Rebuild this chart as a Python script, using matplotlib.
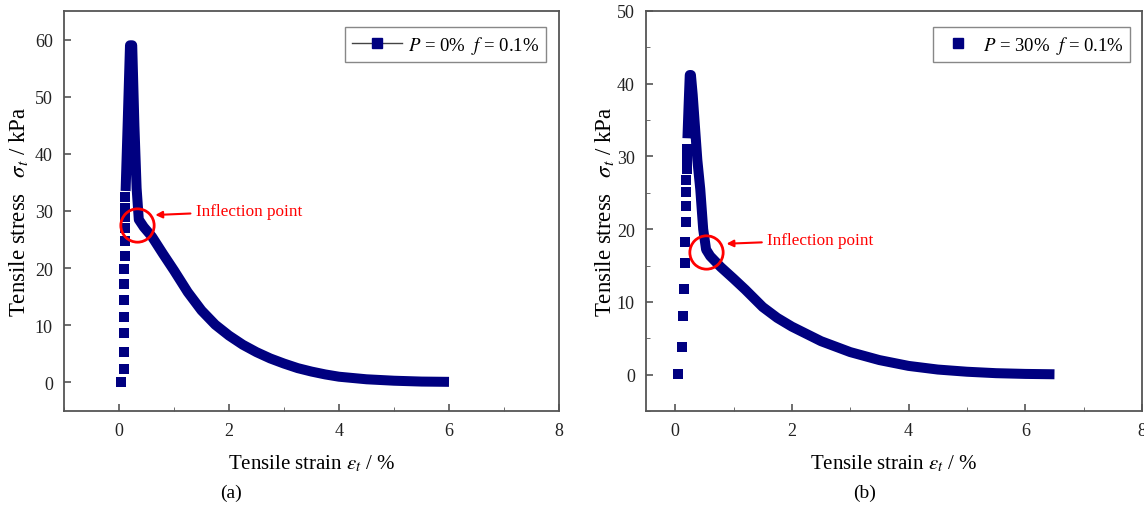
import matplotlib
matplotlib.use("Agg")
import matplotlib.pyplot as plt
from matplotlib.lines import Line2D
from matplotlib.ticker import MultipleLocator

# ---- data ----
# (a) P = 0 %
rise_x_a = [0.04, 0.09, 0.09, 0.09, 0.09, 0.09, 0.09, 0.09, 0.10, 0.10, 0.10, 0.10, 0.10, 0.10]
rise_y_a = [0.0, 2.4, 5.4, 8.6, 11.5, 14.5, 17.3, 19.8, 22.2, 24.7, 27.0, 28.9, 30.6, 32.4]
curve_x_a = [0.12, 0.16, 0.20, 0.24, 0.28, 0.32, 0.36, 0.45, 0.60, 0.80, 1.00, 1.25, 1.50,
             1.75, 2.00, 2.25, 2.50, 2.75, 3.00, 3.25, 3.50, 3.75, 4.00, 4.50, 5.00, 5.50, 6.00]
curve_y_a = [33.5, 46.0, 59.0, 59.0, 45.0, 34.0, 28.5, 27.2, 25.5, 22.5, 19.6, 15.8, 12.6,
             10.1, 8.2, 6.6, 5.3, 4.2, 3.3, 2.5, 1.9, 1.4, 1.0, 0.55, 0.3, 0.15, 0.1]

# (b) P = 30 %
rise_x_b = [0.05, 0.12, 0.14, 0.15, 0.16, 0.17, 0.18, 0.18, 0.19, 0.19, 0.20, 0.20, 0.20]
rise_y_b = [0.1, 3.8, 8.0, 11.8, 15.4, 18.3, 21.0, 23.2, 25.1, 26.7, 28.3, 29.7, 31.0]
curve_x_b = [0.21, 0.23, 0.25, 0.27, 0.30, 0.34, 0.38, 0.43, 0.48, 0.53, 0.60, 0.78, 1.00,
             1.20, 1.50, 1.75, 2.00, 2.50, 3.00, 3.50, 4.00, 4.50, 5.00, 5.50, 6.00, 6.50]
curve_y_b = [32.5, 37.0, 41.2, 41.2, 38.5, 34.0, 29.5, 25.5, 20.0, 17.2, 16.3, 14.8, 13.2,
             11.7, 9.3, 7.8, 6.6, 4.6, 3.1, 2.0, 1.2, 0.7, 0.4, 0.2, 0.1, 0.05]

inflect_a = (0.33, 27.6)
inflect_b = (0.53, 16.9)

navy = "#000080"
spine_col = "#555555"

plt.rcParams.update({
    "font.family": ["Liberation Serif", "DejaVu Serif"],
    "mathtext.fontset": "stix",
    "font.size": 13,
    "axes.linewidth": 1.3,
    "axes.edgecolor": spine_col,
    "xtick.direction": "in",
    "ytick.direction": "in",
    "xtick.color": spine_col,
    "ytick.color": spine_col,
    "xtick.labelcolor": "#222222",
    "ytick.labelcolor": "#222222",
    "xtick.major.size": 5,
    "ytick.major.size": 5,
    "xtick.minor.size": 3,
    "ytick.minor.size": 3,
    "xtick.major.width": 1.2,
    "ytick.major.width": 1.2,
})

fig = plt.figure(figsize=(11.44, 5.10), dpi=100)
ax1 = fig.add_axes([64 / 1144, 98 / 510, 495 / 1144, 400 / 510])
ax2 = fig.add_axes([646 / 1144, 98 / 510, 496 / 1144, 400 / 510])


def draw(ax, rx, ry, cx, cy, infl, txt_xy, arrow_xy, ylim, ymaj, yminor, ylab_x):
    ax.plot(rx, ry, "s", color=navy, markersize=6.5, markeredgewidth=0, zorder=3)
    ax.plot(cx, cy, "-", color=navy, linewidth=7.2, solid_capstyle="butt",
            solid_joinstyle="round", zorder=3)
    ax.plot([infl[0]], [infl[1]], "o", markersize=24, markerfacecolor="none",
            markeredgecolor="red", markeredgewidth=2, zorder=4)
    ax.annotate("Inflection point", xy=arrow_xy, xytext=txt_xy, color="red",
                fontsize=12.3, va="center", ha="left",
                arrowprops=dict(arrowstyle="-|>", color="red", lw=1.5,
                                mutation_scale=10, shrinkA=2, shrinkB=0))
    ax.set_ylim(*ylim)
    ax.yaxis.set_major_locator(MultipleLocator(ymaj))
    if yminor:
        ax.yaxis.set_minor_locator(MultipleLocator(yminor))
    ax.xaxis.set_major_locator(MultipleLocator(2))
    ax.xaxis.set_minor_locator(MultipleLocator(1))
    ax.tick_params(axis="both", which="both", top=False, right=False, labelsize=13, pad=8)
    ax.set_xlabel(r"Tensile strain $\varepsilon_t$ / %", fontsize=15, labelpad=10)
    ax.set_ylabel(r"Tensile stress  $\;\sigma_t$ / kPa", fontsize=16.5)
    ax.yaxis.set_label_coords(ylab_x, 0.5)
    for s in ax.spines.values():
        s.set_color(spine_col)


draw(ax1, rise_x_a, rise_y_a, curve_x_a, curve_y_a, inflect_a,
     (1.4, 30.0), (0.66, 29.3), (-5, 65), 10, None, -0.068)
ax1.set_xlim(-1, 8)

draw(ax2, rise_x_b, rise_y_b, curve_x_b, curve_y_b, inflect_b,
     (1.58, 18.5), (0.88, 18.0), (-5, 50), 10, 5, -0.061)
ax2.set_xlim(-0.5, 8)

h1 = Line2D([], [], color="#444444", linewidth=1, marker="s", markersize=7,
            markerfacecolor=navy, markeredgecolor=navy)
h2 = Line2D([], [], linestyle="none", marker="s", markersize=7,
            markerfacecolor=navy, markeredgecolor=navy)
leg_kw = dict(loc="upper right", fancybox=False, edgecolor="#888888",
              fontsize=13.5, borderaxespad=0,
              borderpad=0.35, handletextpad=0.3, framealpha=1)
l1 = ax1.legend([h1], [r"$P$ = 0%  $f$ = 0.1%"], handlelength=2.7,
                bbox_to_anchor=(1 - 13 / 495, 1 - 16 / 400), **leg_kw)
l2 = ax2.legend([h2], [r"$P$ = 30%  $f$ = 0.1%"], handlelength=2.0,
                bbox_to_anchor=(1 - 12 / 496, 1 - 16 / 400), **leg_kw)
for l in (l1, l2):
    l.get_frame().set_linewidth(1.0)

fig.text(231 / 1144, 1 - 493 / 510, "(a)", ha="center", va="center", fontsize=14)
fig.text(865 / 1144, 1 - 493 / 510, "(b)", ha="center", va="center", fontsize=14)

fig.savefig("out.png", dpi=100, facecolor="white")
